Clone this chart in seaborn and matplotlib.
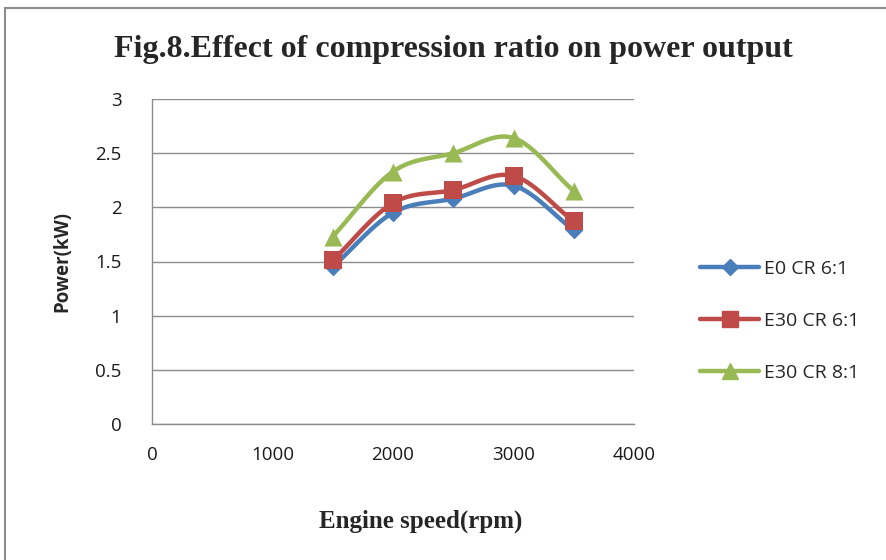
import numpy as np
import pandas as pd
import matplotlib
matplotlib.use("Agg")
import matplotlib.pyplot as plt
import seaborn as sns
from matplotlib.patches import Rectangle
from matplotlib.lines import Line2D

speed = [1500, 2000, 2500, 3000, 3500]
e0_cr6 = [1.45, 1.95, 2.08, 2.20, 1.79]
e30_cr6 = [1.51, 2.04, 2.16, 2.29, 1.87]
e30_cr8 = [1.73, 2.33, 2.50, 2.64, 2.15]
series_names = ["E0 CR 6:1", "E30 CR 6:1", "E30 CR 8:1"]
colors = ["#4A7EBB", "#BE4B48", "#98B954"]
markers = ["D", "s", "^"]
msizes = [9, 13, 13]

sns.set_style("white")
plt.rcParams['font.family'] = ['Open Sans', 'DejaVu Sans']

df = pd.DataFrame({"speed": speed * 3,
                   "power": e0_cr6 + e30_cr6 + e30_cr8,
                   "series": sum([[n] * len(speed) for n in series_names], [])})

fig = plt.figure(figsize=(8.87, 5.60), dpi=100)
ax = fig.add_axes([152/887, 1-424/560, (634-152)/887, (424-99)/560])

def smooth(x, y, n=30):
    # Catmull-Rom style smoothing like Excel smoothed lines
    x = np.asarray(x, float); y = np.asarray(y, float)
    px = np.concatenate([[2*x[0]-x[1]], x, [2*x[-1]-x[-2]]])
    py = np.concatenate([[2*y[0]-y[1]], y, [2*y[-1]-y[-2]]])
    xs, ys = [], []
    for i in range(1, len(px)-2):
        t = np.linspace(0, 1, n)
        for p, out in ((px, xs), (py, ys)):
            p0, p1, p2, p3 = p[i-1], p[i], p[i+1], p[i+2]
            out.extend(0.5*((2*p1) + (-p0+p2)*t + (2*p0-5*p1+4*p2-p3)*t**2 + (-p0+3*p1-3*p2+p3)*t**3))
    return np.array(xs), np.array(ys)

handles = []
for name, c, m, ms in zip(series_names, colors, markers, msizes):
    sub = df[df.series == name]
    sx, sy = smooth(sub.speed, sub.power)
    ax.plot(sx, sy, color=c, lw=3.2, solid_capstyle='round', zorder=3)
    sns.scatterplot(x=sub.speed, y=sub.power, marker=m, s=ms**2, color=c, edgecolor=c,
                    linewidth=0, ax=ax, zorder=4, legend=False)
    handles.append(Line2D([0], [0], color=c, lw=3.2, marker=m, markersize=ms*0.85, label=name))

ax.set_xlim(0, 4000)
ax.set_ylim(0, 3)
ax.set_xticks([0, 1000, 2000, 3000, 4000])
ax.set_yticks([0, 0.5, 1, 1.5, 2, 2.5, 3])
ax.set_yticklabels(["0", "0.5", "1", "1.5", "2", "2.5", "3"])
ax.yaxis.grid(True, color="#8C8C8C", lw=1)
ax.set_axisbelow(True)
for s in ["top", "right"]:
    ax.spines[s].set_visible(False)
for s in ["left", "bottom"]:
    ax.spines[s].set_color("#8C8C8C")
    ax.spines[s].set_linewidth(1)
ax.tick_params(axis='both', length=0, labelsize=13.5, colors="#1a1a1a")
ax.tick_params(axis='x', pad=16)
ax.tick_params(axis='y', pad=22)
ax.set_xlabel("")
ax.set_ylabel("")

fig.text(453/887, 1-49/560, "Fig.8.Effect of compression ratio on power output",
         ha='center', va='center', fontsize=23, fontweight='bold',
         family=['Liberation Serif', 'DejaVu Serif'])
fig.text(421/887, 1-521/560, "Engine speed(rpm)", ha='center', va='center',
         fontsize=18, fontweight='bold', family=['Liberation Serif', 'DejaVu Serif'])
fig.text(62/887, 1-262/560, "Power(kW)", ha='center', va='center', rotation=90,
         fontsize=13.5, fontweight='bold')

leg = fig.legend(handles=handles, loc='center left', bbox_to_anchor=(683/887, 1-321/560),
                 frameon=False, fontsize=14, handlelength=3.0, labelspacing=1.75,
                 handletextpad=0.25)

fig.patches.append(Rectangle((5/887, -0.05), 1.1, 1-8/560 + 0.05, transform=fig.transFigure,
                             fill=False, edgecolor="#8C8C8C", lw=1.5))

fig.savefig("out.png", dpi=100)
